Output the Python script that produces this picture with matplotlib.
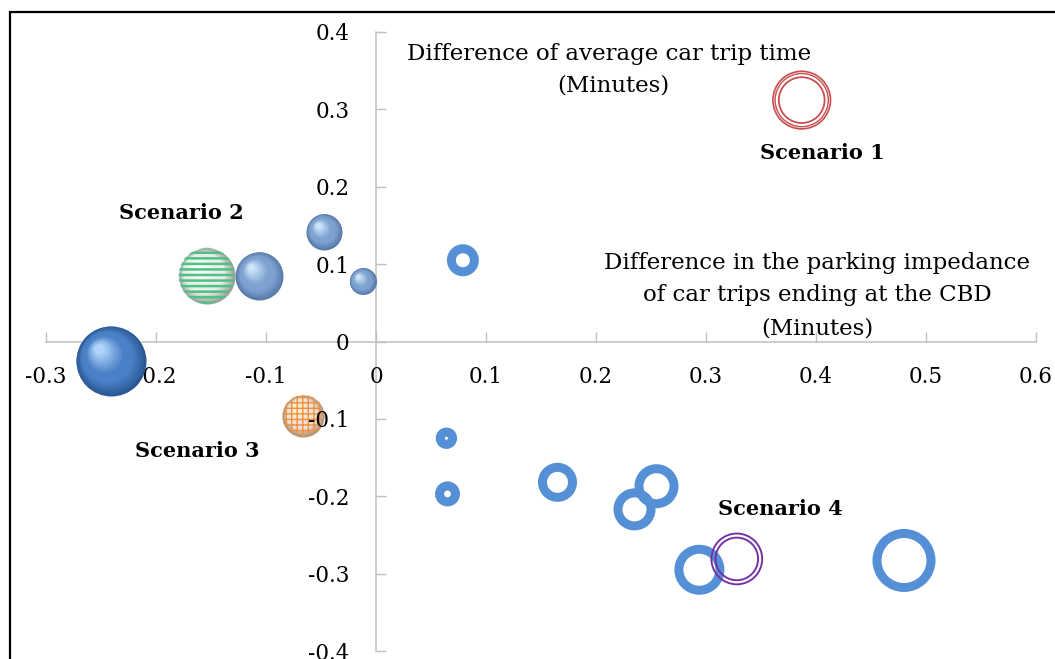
import numpy as np
import matplotlib
matplotlib.use('Agg')
import matplotlib.pyplot as plt
from matplotlib.colors import to_rgb
from matplotlib.transforms import ScaledTranslation

# ===== 数据 =====
# 实心球（普通方案）
sphere_x = [-0.241, -0.106, -0.047, -0.012]
sphere_y = [-0.025, 0.085, 0.142, 0.078]
sphere_size = [35, 24, 18, 13.5]

# 空心环（普通方案）
ring_x = [0.079, 0.064, 0.065, 0.165, 0.255, 0.235, 0.294, 0.480]
ring_y = [0.105, -0.125, -0.197, -0.182, -0.187, -0.217, -0.295, -0.283]
ring_size = [16, 10.7, 12.5, 19.5, 22, 21, 25, 31.5]

# 四个情景
scen_names = ['Scenario 1', 'Scenario 2', 'Scenario 3', 'Scenario 4']
scen_x = [0.387, -0.154, -0.066, 0.328]
scen_y = [0.312, 0.085, -0.096, -0.281]
scen_size = [29.5, 28, 21, 26.3]

x_ticks = [-0.3, -0.2, -0.1, 0, 0.1, 0.2, 0.3, 0.4, 0.5, 0.6]
x_ticklabels = ['-0.3', '-0.2', '-0.1', '0', '0.1', '0.2', '0.3', '0.4', '0.5', '0.6']
y_ticks = [-0.4, -0.3, -0.2, -0.1, 0, 0.1, 0.2, 0.3, 0.4]
y_ticklabels = ['-0.4', '-0.3', '-0.2', '-0.1', '0', '0.1', '0.2', '0.3', '0.4']

DPI = 100
plt.rcParams['font.family'] = ['DejaVu Serif']

fig = plt.figure(figsize=(10.55, 6.59), dpi=DPI)
ax = fig.add_axes([46 / 1055, 1 - 651 / 659, 990 / 1055, 619 / 659])
ax.set_xlim(-0.3, 0.6)
ax.set_ylim(-0.4, 0.4)
ax.patch.set_visible(False)

# 坐标轴交于原点
for side in ['top', 'right']:
    ax.spines[side].set_visible(False)
ax.spines['left'].set_position(('data', 0))
ax.spines['bottom'].set_position(('data', 0))
for side in ['left', 'bottom']:
    ax.spines[side].set_color('#c0c0c0')
    ax.spines[side].set_linewidth(1.1)
    ax.spines[side].set_zorder(0.5)
ax.set_xticks(x_ticks)
ax.set_xticklabels(x_ticklabels)
ax.set_yticks(y_ticks)
ax.set_yticklabels(y_ticklabels)
ax.tick_params(axis='x', direction='in', length=7, width=1, color='#c0c0c0',
               labelsize=15.5, pad=17.5)
ax.tick_params(axis='y', direction='in', length=7, width=1, color='#c0c0c0',
               labelsize=15.5, pad=19)
ax.xaxis.set_zorder(0.5)
ax.yaxis.set_zorder(6)


def px2pt(r):
    return (2 * r * 72 / DPI) ** 2


def blend(c1, c2, t):
    a, b = np.array(to_rgb(c1)), np.array(to_rgb(c2))
    t = min(max(t, 0), 1)
    return tuple(a + (b - a) * t)


def draw_sphere(x, y, r, edge, mid, light, n=28):
    for k in range(n):
        t = k / n
        rad = r * (1 - 0.9 * t)
        off = r * 0.36 * t
        tr = ax.transData + ScaledTranslation(-off / DPI, off / DPI, fig.dpi_scale_trans)
        if t < 0.3:
            c = blend(edge, mid, t / 0.3)
        else:
            c = blend(mid, light, (t - 0.5) / 0.5)
        ax.scatter([x], [y], s=px2pt(rad), color=c, linewidths=0, transform=tr, zorder=3)


# 实心球
for i, (x, y, r) in enumerate(zip(sphere_x, sphere_y, sphere_size)):
    if i == 0:
        draw_sphere(x, y, r, '#2a5894', '#4a80c6', '#b8dcff')
    else:
        draw_sphere(x, y, r, '#587aa8', '#7ea2d0', '#d2e8fb')

# 空心环
ring_mid = [r - 4.5 for r in ring_size]
ax.scatter(ring_x, ring_y, s=[px2pt(r) for r in ring_mid], facecolors='none',
           edgecolors='#5590d6', linewidths=9 * 72 / DPI, zorder=3)

# Scenario 1：红色复合线圆环
for dr, lw in [(-0.7, 1.7), (-2.9, 1.4), (-6.6, 1.8)]:
    ax.scatter([scen_x[0]], [scen_y[0]], s=px2pt(scen_size[0] + dr), facecolors='none',
               edgecolors='#c8504e', linewidths=lw * 72 / DPI, zorder=4)

# Scenario 2：绿色条纹球
draw_sphere(scen_x[1], scen_y[1], scen_size[1], '#a0a0a0', '#ececec', '#ffffff')
with plt.rc_context({'hatch.color': '#4cc283', 'hatch.linewidth': 1.8}):
    ax.scatter([scen_x[1]], [scen_y[1]], s=px2pt(scen_size[1]), facecolors='none',
               edgecolors='#4cc283', linewidths=0, hatch='---', zorder=4)

# Scenario 3：橙色格子球
draw_sphere(scen_x[2], scen_y[2], scen_size[2], '#a09080', '#ece2d8', '#fff4c8')
with plt.rc_context({'hatch.color': '#f0903f', 'hatch.linewidth': 1.0}):
    ax.scatter([scen_x[2]], [scen_y[2]], s=px2pt(scen_size[2]), facecolors='none',
               edgecolors='#f0903f', linewidths=0, hatch='+++', zorder=4)

# Scenario 4：紫色双线圆环
for dr in [-0.9, -5.0]:
    ax.scatter([scen_x[3]], [scen_y[3]], s=px2pt(scen_size[3] + dr), facecolors='none',
               edgecolors='#7330a2', linewidths=1.9 * 72 / DPI, zorder=4)

# 情景标签
ax.text(0.4055, 0.243, scen_names[0], ha='center', va='center', fontsize=15, fontweight='bold', zorder=7)
ax.text(-0.177, 0.1655, scen_names[1], ha='center', va='center', fontsize=15, fontweight='bold', zorder=7)
ax.text(-0.162, -0.141, scen_names[2], ha='center', va='center', fontsize=15, fontweight='bold', zorder=7)
ax.text(0.368, -0.216, scen_names[3], ha='center', va='center', fontsize=15, fontweight='bold', zorder=7)

# 轴标题
ax.text(0.212, 0.372, 'Difference of average car trip time', ha='center', va='center', fontsize=16.5, zorder=7)
ax.text(0.216, 0.331, '(Minutes)', ha='center', va='center', fontsize=16.5, zorder=7)
ax.text(0.401, 0.102, 'Difference in the parking impedance', ha='center', va='center', fontsize=16.5, zorder=7)
ax.text(0.401, 0.0595, 'of car trips ending at the CBD', ha='center', va='center', fontsize=16.5, zorder=7)
ax.text(0.401, 0.0168, '(Minutes)', ha='center', va='center', fontsize=16.5, zorder=7)

# 外框
frame = plt.Rectangle((10 / 1055, -0.2), 1.2, 1 - 12 / 659 + 0.2, transform=fig.transFigure,
                      fill=False, edgecolor='black', linewidth=1.6, clip_on=False)
fig.add_artist(frame)

fig.savefig('out.png', dpi=DPI)
